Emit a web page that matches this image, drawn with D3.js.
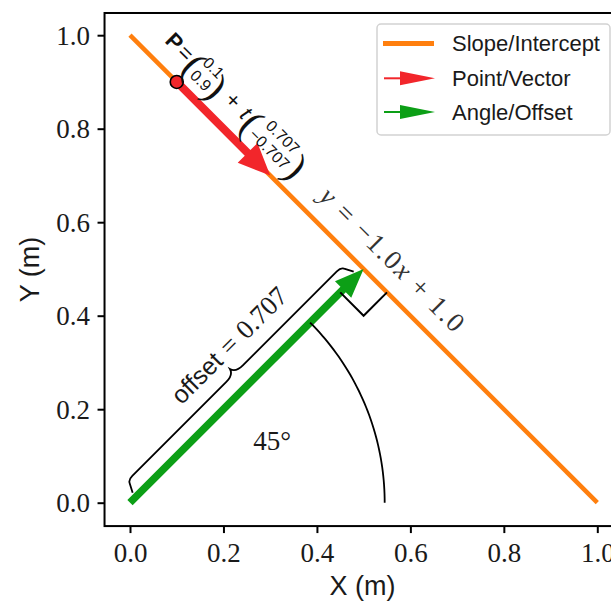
<!DOCTYPE html>
<html>
<head>
<meta charset="utf-8">
<script src="https://cdn.jsdelivr.net/npm/d3@7/dist/d3.min.js"></script>
<style>
  html, body { margin: 0; padding: 0; background: #fff; }
  svg { display: block; }
</style>
</head>
<body>
<svg id="chart" width="611" height="603"></svg>
<script>
// ---------- data ----------
const xTicks = [0.0, 0.2, 0.4, 0.6, 0.8, 1.0];
const yTicks = [0.0, 0.2, 0.4, 0.6, 0.8, 1.0];
const xLim = [-0.0545, 1.05];
const yLim = [-0.05, 1.0475];
const slope = -1.0;
const intercept = 1.0;
const lineXs = [0.0, 1.0];
const point = [0.1, 0.9];
const direction = [0.707, -0.707];
const tLength = 0.283;
const offsetValue = 0.707;
const angleDeg = 45;
const arcRadius = 0.545;
const rightAngleSize = 0.0707;
const legendLabels = ["Slope/Intercept", "Point/Vector", "Angle/Offset"];
const colors = { orange: "#ff7f0e", red: "#f2262b", green: "#0c9f16" };

// ---------- setup ----------
const svg = d3.select("#chart");
const x = d3.scaleLinear().domain([0, 1]).range([130, 597.3]);
const y = d3.scaleLinear().domain([0, 1]).range([502.7, 35.2]);
const SERIF = "'Liberation Serif', 'Times New Roman', serif";
const SANS = "'Liberation Sans', Arial, sans-serif";
const INK = "#1a1a1a";

// frame
svg.append("rect")
  .attr("x", x(xLim[0])).attr("y", y(yLim[1]))
  .attr("width", x(xLim[1]) - x(xLim[0]))
  .attr("height", y(yLim[0]) - y(yLim[1]))
  .attr("fill", "none").attr("stroke", "#000").attr("stroke-width", 2);

// axes
const xAxis = svg.append("g")
  .attr("transform", `translate(0,${y(yLim[0])})`)
  .call(d3.axisBottom(x).tickValues(xTicks).tickFormat(d3.format(".1f")).tickSize(7).tickPadding(10));
const yAxis = svg.append("g")
  .attr("transform", `translate(${x(xLim[0])},0)`)
  .call(d3.axisLeft(y).tickValues(yTicks).tickFormat(d3.format(".1f")).tickSize(7).tickPadding(7.5));
[xAxis, yAxis].forEach(g => {
  g.select(".domain").remove();
  g.selectAll(".tick line").attr("stroke", "#000").attr("stroke-width", 2);
  g.selectAll(".tick text").attr("fill", INK).attr("font-family", SERIF).attr("font-size", 27);
});
yAxis.selectAll(".tick text").attr("dy", "0.34em");

// axis labels
svg.append("text").attr("x", (x(xLim[0]) + x(xLim[1])) / 2).attr("y", 595)
  .attr("text-anchor", "middle").attr("font-family", SANS).attr("font-size", 27).attr("fill", INK)
  .text("X (m)");
svg.append("text")
  .attr("transform", `translate(39,${(y(yLim[0]) + y(yLim[1])) / 2}) rotate(-90)`)
  .attr("text-anchor", "middle").attr("font-family", SANS).attr("font-size", 27).attr("fill", INK)
  .text("Y (m)");

// ---------- helpers ----------
function arrowPoints(s, e, w, hl, hw) {
  const dx = e[0] - s[0], dy = e[1] - s[1];
  const len = Math.hypot(dx, dy);
  const ux = dx / len, uy = dy / len;
  const nx = -uy, ny = ux;
  const b = [e[0] - ux * hl, e[1] - uy * hl];
  return [
    [s[0] + nx * w / 2, s[1] + ny * w / 2],
    [b[0] + nx * w / 2, b[1] + ny * w / 2],
    [b[0] + nx * hw / 2, b[1] + ny * hw / 2],
    e,
    [b[0] - nx * hw / 2, b[1] - ny * hw / 2],
    [b[0] - nx * w / 2, b[1] - ny * w / 2],
    [s[0] - nx * w / 2, s[1] - ny * w / 2]
  ];
}
const th = angleDeg * Math.PI / 180;
// local (along, perp) in data units along the offset direction -> screen
function local(u, v) {
  return [x(u * Math.cos(th) - v * Math.sin(th)), y(u * Math.sin(th) + v * Math.cos(th))];
}

// ---------- orange slope/intercept line ----------
svg.append("path")
  .attr("d", d3.line().x(d => x(d)).y(d => y(slope * d + intercept))(lineXs))
  .attr("fill", "none").attr("stroke", colors.orange).attr("stroke-width", 4.5);

// ---------- green offset arrow ----------
const foot = [offsetValue * Math.cos(th), offsetValue * Math.sin(th)];
svg.append("polygon")
  .attr("points", arrowPoints([x(0), y(0)], [x(foot[0]), y(foot[1])], 7.5, 29, 23).map(p => p.join(",")).join(" "))
  .attr("fill", colors.green);

// right-angle marker
const rA = local(offsetValue - rightAngleSize, 0);
const rB = local(offsetValue - rightAngleSize, -rightAngleSize);
const rC = local(offsetValue, -rightAngleSize);
svg.append("path").attr("d", d3.line()([rA, rB, rC]))
  .attr("fill", "none").attr("stroke", "#000").attr("stroke-width", 2);

// angle arc
const arcPts = d3.range(0, angleDeg + 0.5, 1).map(a => {
  const r = a * Math.PI / 180;
  return [x(arcRadius * Math.cos(r)), y(arcRadius * Math.sin(r))];
});
svg.append("path").attr("d", d3.line()(arcPts))
  .attr("fill", "none").attr("stroke", "#000").attr("stroke-width", 1.8);

svg.append("text").attr("x", x(0.304)).attr("y", y(0.132)).attr("dy", "0.34em")
  .attr("text-anchor", "middle").attr("font-family", SERIF).attr("font-size", 27).attr("fill", INK)
  .text(angleDeg + "°");

// curly brace along offset
const L = offsetValue, e = 0.019, vb = 0.037, ve = 0.011, vc = 0.051;
const bp = d3.path();
let p;
p = local(e, ve); bp.moveTo(p[0], p[1]);
p = local(e + 0.01, 0.03); bp.lineTo(p[0], p[1]);
let c = local(e + 0.013, vb); p = local(e + 0.025, vb); bp.quadraticCurveTo(c[0], c[1], p[0], p[1]);
p = local(L / 2 - 0.025, vb); bp.lineTo(p[0], p[1]);
c = local(L / 2 - 0.004, vb); p = local(L / 2, vc); bp.quadraticCurveTo(c[0], c[1], p[0], p[1]);
c = local(L / 2 + 0.004, vb); p = local(L / 2 + 0.025, vb); bp.quadraticCurveTo(c[0], c[1], p[0], p[1]);
p = local(L - e - 0.025, vb); bp.lineTo(p[0], p[1]);
c = local(L - e - 0.013, vb); p = local(L - e - 0.01, 0.03); bp.quadraticCurveTo(c[0], c[1], p[0], p[1]);
p = local(L - e, ve); bp.lineTo(p[0], p[1]);
svg.append("path").attr("d", bp.toString())
  .attr("fill", "none").attr("stroke", "#000").attr("stroke-width", 1.8);

// offset label
const ol = local(0.388, 0.069);
const offText = svg.append("text")
  .attr("transform", `translate(${ol[0]},${ol[1]}) rotate(${-angleDeg})`)
  .attr("text-anchor", "middle").attr("fill", INK);
offText.append("tspan").attr("font-family", SANS).attr("font-size", 25).text("offset");
offText.append("tspan").attr("font-family", SERIF).attr("font-size", 27).attr("dx", 8).text("=");
offText.append("tspan").attr("font-family", SERIF).attr("font-size", 27).attr("dx", 8).text(d3.format(".3f")(offsetValue));

// equation label along orange line
const eqAlong = 0.736, eqPerp = 0.0385;
const ex = 0 + eqAlong * Math.SQRT1_2 + eqPerp * Math.SQRT1_2;
const ey = intercept - eqAlong * Math.SQRT1_2 + eqPerp * Math.SQRT1_2;
const eqText = svg.append("text")
  .attr("transform", `translate(${x(ex)},${y(ey)}) rotate(45)`)
  .attr("text-anchor", "middle").attr("font-family", SERIF).attr("font-size", 27).attr("fill", "#333")
  .attr("textLength", 192).attr("lengthAdjust", "spacing");
eqText.append("tspan").attr("font-style", "italic").text("y");
eqText.append("tspan").text(" = \u2212" + slope.toFixed(1).replace("-", ""));
eqText.append("tspan").attr("font-style", "italic").text("x");
eqText.append("tspan").text(" + " + intercept.toFixed(1));

// ---------- red point/vector arrow ----------
const tip = [point[0] + tLength * direction[0], point[1] + tLength * direction[1]];
svg.append("polygon")
  .attr("points", arrowPoints([x(point[0]), y(point[1])], [x(tip[0]), y(tip[1])], 8, 32, 28).map(p => p.join(",")).join(" "))
  .attr("fill", colors.red);
svg.append("circle").attr("cx", x(point[0])).attr("cy", y(point[1])).attr("r", 6.5)
  .attr("fill", colors.red).attr("stroke", "#000").attr("stroke-width", 1.6);

// parametric equation label
const pg = svg.append("g")
  .attr("transform", `translate(${x(point[0])},${y(point[1])}) rotate(45)`)
  .attr("fill", "#111").attr("font-family", SANS);
const ax = -27;
function ptxt(tx, ty, size, str, extra) {
  const t = pg.append("text").attr("x", tx).attr("y", ty).attr("font-size", size)
    .attr("text-anchor", "middle").attr("dominant-baseline", "central").text(str);
  if (extra) extra(t);
  return t;
}
const paren = t => t.attr("font-family", SERIF);
ptxt(-30, ax, 22, "P", t => t.attr("font-weight", "bold"));
ptxt(-14, ax, 22, "=");
ptxt(0, ax + 3, 40, "(", paren);
ptxt(16, ax - 9, 16, point[0].toFixed(1));
ptxt(16, ax + 9, 16, point[1].toFixed(1));
ptxt(32, ax + 3, 40, ")", paren);
ptxt(53, ax, 22, "+");
ptxt(71, ax, 22, "t", t => t.attr("font-style", "italic"));
ptxt(82, ax + 3, 40, "(", paren);
ptxt(114, ax - 9, 16, direction[0].toFixed(3));
ptxt(113, ax + 9, 16, "\u2212" + Math.abs(direction[1]).toFixed(3));
ptxt(145, ax + 3, 40, ")", paren);

// ---------- legend ----------
const lg = svg.append("g");
lg.append("rect").attr("x", 377).attr("y", 24).attr("width", 233).attr("height", 111).attr("rx", 4)
  .attr("fill", "#fff").attr("fill-opacity", 0.85).attr("stroke", "#d2d2d2").attr("stroke-width", 1.5);
const rows = [43.5, 78.3, 112];
lg.append("line").attr("x1", 383).attr("x2", 434).attr("y1", rows[0]).attr("y2", rows[0])
  .attr("stroke", colors.orange).attr("stroke-width", 5);
[[colors.red, rows[1]], [colors.green, rows[2]]].forEach(([col, ry]) => {
  lg.append("line").attr("x1", 384).attr("x2", 402).attr("y1", ry).attr("y2", ry)
    .attr("stroke", col).attr("stroke-width", 2);
  lg.append("polygon").attr("points", arrowPoints([400, ry], [435, ry], 0, 35, 14).map(p => p.join(",")).join(" "))
    .attr("fill", col);
});
legendLabels.forEach((lab, i) => {
  lg.append("text").attr("x", 452).attr("y", rows[i] + 7.5)
    .attr("font-family", SANS).attr("font-size", 22).attr("fill", INK).text(lab);
});
</script>
</body>
</html>
